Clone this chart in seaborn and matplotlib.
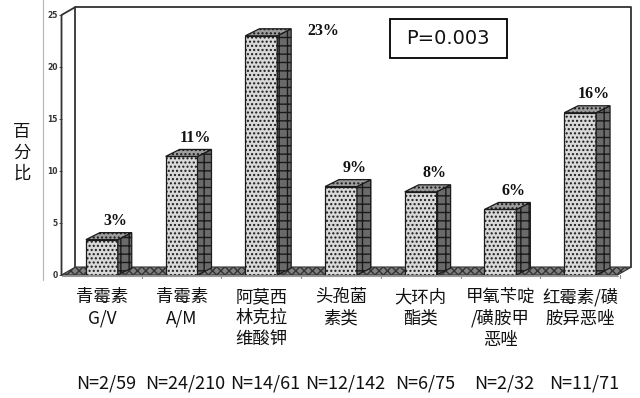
import matplotlib
matplotlib.use('Agg')
import matplotlib.pyplot as plt
import matplotlib.transforms as mtransforms
from matplotlib.patches import Polygon, Rectangle
from matplotlib.lines import Line2D
import seaborn as sns

# данные
categories = ['青霉素\nG/V', '青霉素\nA/M', '阿莫西\n林克拉\n维酸钾', '头孢菌\n素类',
              '大环内\n酯类', '甲氧苄啶\n/磺胺甲\n恶唑', '红霉素/磺\n胺异恶唑']
values = [3.4, 11.4, 23.0, 8.5, 8.0, 6.3, 15.6]
pct_labels = ['3%', '11%', '23%', '9%', '8%', '6%', '16%']
n_labels = ['N=2/59', 'N=24/210', 'N=14/61', 'N=12/142', 'N=6/75', 'N=2/32', 'N=11/71']
y_ticks = [0, 5, 10, 15, 20, 25]
p_text = 'P=0.003'

sns.set_style('white')
plt.rcParams['font.family'] = ['Noto Sans CJK SC', 'DejaVu Sans']

W, H = 640, 398
fig = plt.figure(figsize=(6.4, 3.98), dpi=100)
# оси: фронтальная ось y на x=62px, 0 на y=275px, 25 на y=15px
ax_l, ax_r, ax_b, ax_t = 62, 620, 275, 15
ax = fig.add_axes([ax_l / W, 1 - ax_b / H, (ax_r - ax_l) / W, (ax_b - ax_t) / H])

px_x = 80.0                      # пикселей на категорию
px_y = (ax_b - ax_t) / 25.0      # пикселей на единицу
x0 = -(102.5 - ax_l) / px_x
x1 = x0 + (ax_r - ax_l) / px_x
ax.set_xlim(x0, x1)
ax.set_ylim(0, 25)

bw = 0.4
dx, dy = 14 / px_x, 7 / px_y     # глубина столбцов
wdx, wdy = 14 / px_x, 8 / px_y   # глубина "стенки"

# пол
plt.rcParams['hatch.color'] = '#555555'
floor = Polygon([(x0, 0), (x1, 0), (x1 + wdx, wdy), (x0 + wdx, wdy)], closed=True,
                facecolor='#808080', edgecolor='#333333', lw=0.8, hatch='xxxx',
                zorder=1, clip_on=False)
ax.add_patch(floor)

# стенки
wall_kw = dict(color='#333333', lw=1.3, clip_on=False, zorder=1.5)
ax.add_line(Line2D([x0 + wdx, x0 + wdx, x1 + wdx, x1 + wdx], [wdy, 25 + wdy, 25 + wdy, wdy], **wall_kw))
ax.add_line(Line2D([x0, x0, x0 + wdx], [0, 25, 25 + wdy], **wall_kw))

# фронтальные грани столбцов
sns.barplot(x=list(range(len(values))), y=values, width=bw, color='#d9d9d9',
            edgecolor='#1a1a1a', linewidth=0.9, saturation=1, ax=ax, zorder=3)
plt.rcParams['hatch.color'] = '#a8a8a8'
for p in ax.patches:
    if isinstance(p, Rectangle):
        p.set_hatch('....')

# боковые и верхние грани
plt.rcParams['hatch.color'] = '#3a3a3a'
for i, v in enumerate(values):
    xl, xr = i - bw / 2, i + bw / 2
    side = Polygon([(xr, 0), (xr + dx, dy), (xr + dx, v + dy), (xr, v)], closed=True,
                   facecolor='#6a6a6a', edgecolor='#1a1a1a', lw=0.9, hatch='++', zorder=3)
    top = Polygon([(xl, v), (xl + dx, v + dy), (xr + dx, v + dy), (xr, v)], closed=True,
                  facecolor='#9e9e9e', edgecolor='#1a1a1a', lw=0.9, hatch='....', zorder=3)
    ax.add_patch(side)
    ax.add_patch(top)

# подписи процентов
for i, (v, t) in enumerate(zip(values, pct_labels)):
    if v > 20:
        tx, ty = i + 0.78, v - 0.3
    else:
        tx, ty = i + 0.17, v + dy + 0.35
    ax.text(tx, ty, t, ha='center', va='bottom', fontsize=11.5, fontweight='bold',
            family='Liberation Serif', color='#111111', zorder=5)

# оси и тики
for s in ax.spines.values():
    s.set_visible(False)
ax.set_yticks(y_ticks)
ax.set_yticklabels([str(t) for t in y_ticks], fontsize=5.5, fontweight='bold',
                   family='DejaVu Sans', color='#333333')
ax.tick_params(axis='y', left=True, length=2, width=0.6, pad=1, color='#333333')
ax.set_xticks(range(len(categories)))
ax.set_xticklabels(categories, fontsize=12.5, linespacing=1.22, color='#111111')
ax.tick_params(axis='x', bottom=False, pad=6)
ax.set_xlabel('')

# мелкие тики между категориями
for k in range(len(categories)):
    ax.add_line(Line2D([k + 0.5, k + 0.5], [0, -3 / px_y], color='#888888', lw=0.8, clip_on=False))
ax.add_line(Line2D([x0, x1], [-1 / px_y, -1 / px_y], color='#999999', lw=0.8, clip_on=False))

# подпись оси y
fig.text(22 / W, 1 - 153 / H, '百\n分\n比', ha='center', va='center', fontsize=12.5,
         linespacing=1.22, color='#111111')

# N=...
trans = mtransforms.blended_transform_factory(ax.transData, fig.transFigure)
for i, t in enumerate(n_labels):
    ax.text(i + 0.05, 1 - 383 / H, t, transform=trans, ha='center', va='center',
            fontsize=13, color='#111111')

# рамка P=0.003
fig.patches.append(Rectangle((390 / W, 1 - 58 / H), 117 / W, 39 / H, transform=fig.transFigure,
                             facecolor='white', edgecolor='black', lw=1.3, zorder=5))
fig.text(448 / W, 1 - 39 / H, p_text, ha='center', va='center', fontsize=14,
         family='DejaVu Sans', color='#111111', zorder=6)

# рамка вставленного скана
fig.add_artist(Line2D([43 / W, 43 / W], [1, 1 - 280 / H], transform=fig.transFigure, color='#b5b5b5', lw=0.8))

fig.savefig('out.png', dpi=100)
